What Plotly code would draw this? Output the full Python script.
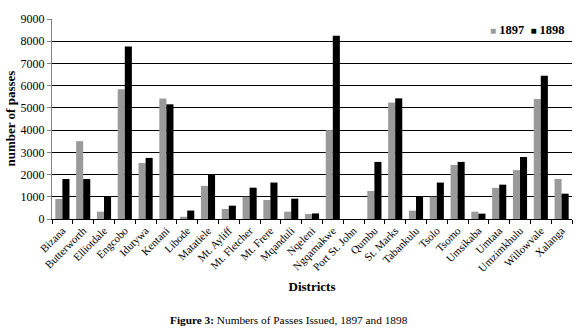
import plotly.graph_objects as go

districts = ["Bizana", "Butterworth", "Elliotdale", "Engcobo", "Idutywa", "Kentani",
             "Libode", "Matatiele", "Mt. Ayliff", "Mt. Fletcher", "Mt. Frere", "Mqanduli",
             "Nqeleni", "Ngqamakwe", "Port St. John", "Qumbu", "St. Marks", "Tabankulu",
             "Tsolo", "Tsomo", "Umsikaba", "Umtata", "Umzimkhulu", "Willowvale", "Xalanga"]
passes_1897 = [900, 3500, 330, 5840, 2520, 5420, 100, 1490, 450, 1000, 855, 330,
               225, 4000, 0, 1260, 5240, 375, 1000, 2430, 330, 1400, 2200, 5400, 1800]
passes_1898 = [1800, 1800, 1000, 7760, 2750, 5160, 380, 1980, 600, 1410, 1640, 915,
               250, 8250, 0, 2570, 5430, 1035, 1640, 2570, 240, 1545, 2790, 6450, 1140]

FONT = "Liberation Serif"
GRAY = "#9a9a9a"

fig = go.Figure()
fig.add_trace(go.Bar(x=districts, y=passes_1897, name="1897", marker_color=GRAY,
                     marker_line_width=0))
fig.add_trace(go.Bar(x=districts, y=passes_1898, name="1898", marker_color="#000000",
                     marker_line_width=0))

fig.update_layout(
    width=580, height=333,
    margin=dict(l=52, r=8, t=19, b=114),
    paper_bgcolor="white", plot_bgcolor="white",
    barmode="group", bargap=0.32, bargroupgap=0,
    font=dict(family=FONT, color="black", size=11),
    showlegend=False,
)
fig.update_xaxes(
    tickangle=-45, tickfont=dict(family=FONT, size=11),
    showline=True, linecolor="black", linewidth=1,
    ticks="outside", tickson="boundaries", ticklen=4, tickcolor="black",
    title=dict(text="<b>Districts</b>", font=dict(family=FONT, size=13), standoff=8),
    showgrid=False, automargin=False,
)
fig.update_yaxes(
    range=[0, 9000], dtick=1000,
    tickfont=dict(family=FONT, size=12),
    showline=True, linecolor="#808080", linewidth=1,
    ticks="outside", ticklen=4, tickcolor="#808080",
    showgrid=True, gridcolor="black", gridwidth=1,
    zeroline=False, automargin=False,
)
# y-axis title
fig.add_annotation(
    text="<b>number of passes</b>", textangle=-90,
    xref="paper", yref="paper", x=-0.1, y=0.5, xanchor="left", yanchor="middle",
    showarrow=False, font=dict(family=FONT, size=13, color="black"),
)
# legend drawn as text
fig.add_annotation(
    text=("<span style='color:%s;font-size:10px'>■</span> <b>1897</b>  "
          "<span style='color:#000000;font-size:10px'>■</span> <b>1898</b>") % GRAY,
    xref="paper", yref="paper", x=0.99, y=0.945, xanchor="right", yanchor="middle",
    showarrow=False, font=dict(family=FONT, size=12.5, color="black"),
)
fig.add_annotation(
    text="<b>Figure 3:</b> Numbers of Passes Issued, 1897 and 1898",
    xref="paper", yref="paper", x=0.455, y=-0.505, xanchor="center", yanchor="middle",
    showarrow=False, font=dict(family=FONT, size=11.3, color="black"),
)

fig.write_html("out.html", config={"displayModeBar": False},
               post_script="document.body.style.margin='0';document.body.style.overflow='hidden';")
